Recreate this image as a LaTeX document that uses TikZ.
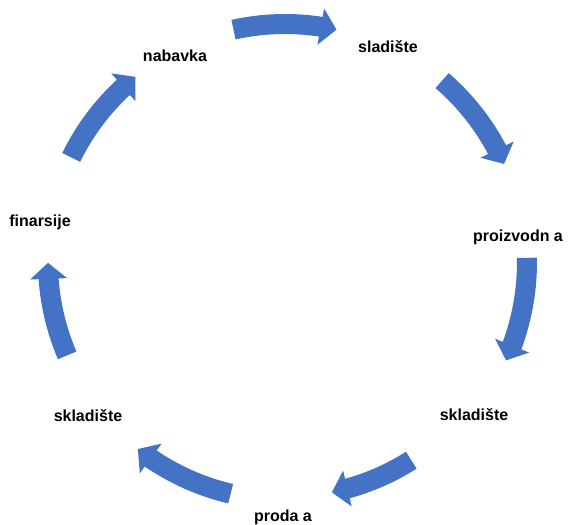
\documentclass[tikz,border=0pt]{standalone}
\usepackage{fontspec}
\setmainfont{Liberation Sans}
\usetikzlibrary{arrows.meta,bending,calc}
\definecolor{flowblue}{RGB}{68,114,196}
\tikzset{
  lbl/.style={anchor=base,inner sep=0pt,font=\bfseries\fontsize{16}{19}\selectfont},
  flow/.style={draw=flowblue,line width=20pt,-{Triangle[width=36pt,length=16pt]}}
}
\begin{document}
\begin{tikzpicture}[x=1pt,y=1pt]
			\useasboundingbox (0,0) rectangle (568,525);
			\coordinate (c) at (285,263);
			\node[lbl]  at (175,463)  (nab)  {nabavka};
			\node[lbl]  at (388,472)  (sl)   {sladište};
			\node[lbl]  at (518,283)  (pro)  {proizvodn a};
			\node[lbl]  at (474,104)  (skr)  {skladište};
			\node[lbl]  at (283,3)    (prd)  {proda a};
			\node[lbl]  at (88,103)   (skl)  {skladište};
			\node[lbl]  at (40,298)   (fin)  {finarsije};
			\coordinate (a1) at ($(c)+(102.5:238)$);
			\coordinate (a2) at ($(c)+(49.1:240)$);
			\coordinate (a3) at ($(c)+(1:242)$);
			\coordinate (a4) at ($(c)+(-57.5:235)$);
			\coordinate (a5) at ($(c)+(-103.2:238)$);
			\coordinate (a6) at ($(c)+(-156.8:237)$);
			\coordinate (a7) at ($(c)+(-206.07:238)$);
			\draw[flow] (a1) arc[start angle=102.5,delta angle=-25,radius=238];
			\draw[flow] (a2) arc[start angle=49.1,delta angle=-25,radius=240];
			\draw[flow] (a3) arc[start angle=1,delta angle=-25,radius=242];
			\draw[flow] (a4) arc[start angle=-57.5,delta angle=-21,radius=235];
			\draw[flow] (a5) arc[start angle=-103.2,delta angle=-25,radius=238];
			\draw[flow] (a6) arc[start angle=-156.8,delta angle=-23,radius=237];
			\draw[flow] (a7) arc[start angle=-206.07,delta angle=-25,radius=238];
		\end{tikzpicture}
\end{document}
